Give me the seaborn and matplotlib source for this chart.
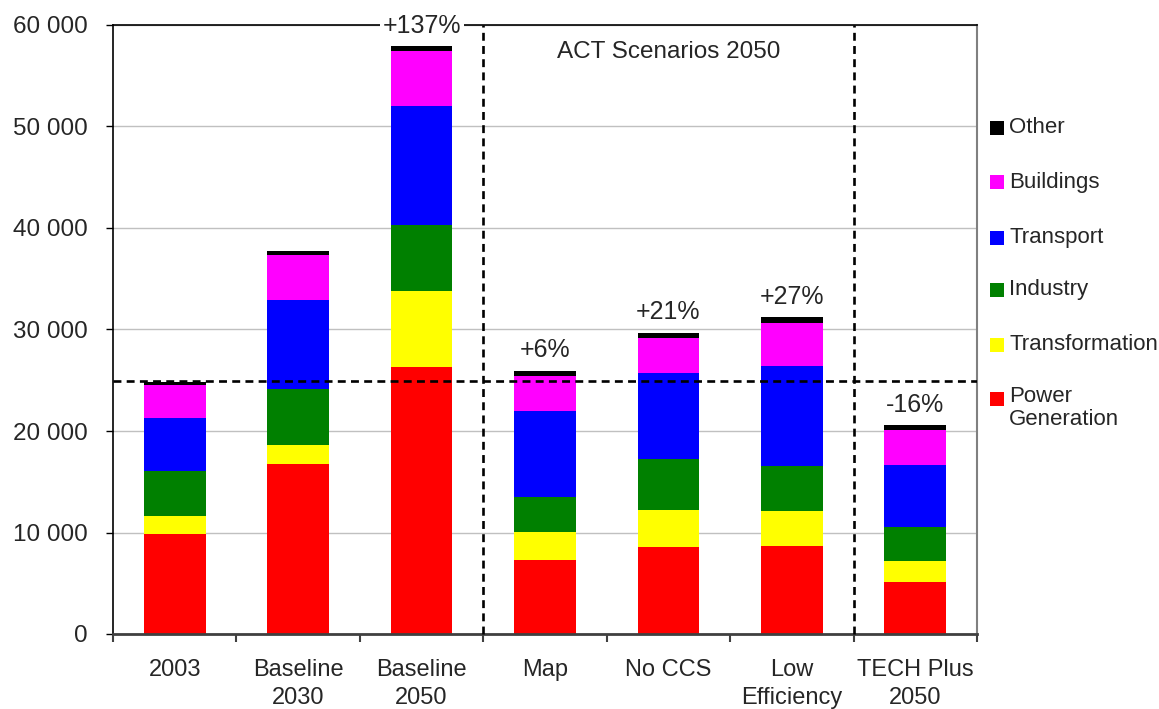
import numpy as np
import pandas as pd
import matplotlib
matplotlib.use("Agg")
import matplotlib.pyplot as plt
from matplotlib.patches import Rectangle
import seaborn as sns

# scenarios (x axis)
categories = ["2003", "Baseline\n2030", "Baseline\n2050", "Map", "No CCS",
              "Low\nEfficiency", "TECH Plus\n2050"]

# sector emissions (bottom to top of each bar)
power = [9850, 16750, 26340, 7290, 8570, 8670, 5120]
transformation = [1780, 1870, 7450, 2760, 3650, 3450, 2070]
industry = [4430, 5520, 6510, 3450, 5020, 4460, 3350]
transport = [5220, 8760, 11720, 8470, 8470, 9820, 6080]
buildings = [3250, 4440, 5420, 3450, 3450, 4240, 3480]
other = [330, 420, 490, 520, 530, 590, 490]

sectors = ["Power\nGeneration", "Transformation", "Industry", "Transport", "Buildings", "Other"]
sector_colors = ["#ff0000", "#ffff00", "#008000", "#0000ff", "#ff00ff", "#000000"]
change_labels = ["", "", "+137%", "+6%", "+21%", "+27%", "-16%"]
y_ticks = [0, 10000, 20000, 30000, 40000, 50000, 60000]

sns.set_style("white")
plt.rcParams['font.family'] = ['Liberation Sans', 'DejaVu Sans']

df = pd.DataFrame({
    "scenario": categories,
    sectors[0]: power,
    sectors[1]: transformation,
    sectors[2]: industry,
    sectors[3]: transport,
    sectors[4]: buildings,
    sectors[5]: other,
})
# cumulative tops, so stacked bars can be drawn tallest first
cum = df[sectors].cumsum(axis=1)
cum["scenario"] = df["scenario"]
totals = cum[sectors[-1]].values

fig = plt.figure(figsize=(11.59, 7.09), dpi=100)
ax = fig.add_axes([113 / 1159, 1 - 634 / 709, 864 / 1159, 609 / 709])

for sector, color in zip(reversed(sectors), reversed(sector_colors)):
    sns.barplot(data=cum, x="scenario", y=sector, order=categories, color=color,
                saturation=1, width=0.5, linewidth=0, ax=ax)

ax.set_xlim(-0.5, len(categories) - 0.5)
ax.set_ylim(0, 60000)
ax.set_xlabel("")
ax.set_ylabel("")

# y axis
ax.set_yticks(y_ticks)
ax.set_yticklabels([f"{v:,}".replace(",", " ") for v in y_ticks], fontsize=17.5)
ax.tick_params(axis='y', length=5, width=1, direction='out', pad=13, color='black', left=True)
ax.yaxis.grid(True, color='#c0c0c0', linewidth=1)
ax.set_axisbelow(True)

# x axis: labels at centres, ticks between categories
ax.set_xticks(range(len(categories)))
ax.set_xticklabels(categories, fontsize=17, linespacing=1.35)
ax.tick_params(axis='x', which='major', length=0, pad=18)
ax.set_xticks(np.arange(-0.5, len(categories), 1), minor=True)
ax.tick_params(axis='x', which='minor', length=6, width=1.5, direction='out',
               color='#404040', bottom=True)

for side in ['left', 'top']:
    ax.spines[side].set_color('black')
    ax.spines[side].set_linewidth(1.2)
ax.spines['right'].set_color('#808080')
ax.spines['right'].set_linewidth(1.5)
ax.spines['bottom'].set_color('#404040')
ax.spines['bottom'].set_linewidth(2)

# reference lines
dash = (0, (3, 2))
ax.axhline(totals[0] + 100, color='black', linestyle=dash, linewidth=1.9, zorder=4)
for xv in [2.5, 5.5]:
    ax.axvline(xv, color='black', linestyle=dash, linewidth=1.9, zorder=4, clip_on=False)

ax.text(4, 57300, "ACT Scenarios 2050", ha='center', va='center', fontsize=17.5)

# change vs 2003 above bars
for i, lab in enumerate(change_labels):
    if not lab:
        continue
    ax.annotate(lab, (i, totals[i]), xytext=(0, 6), textcoords='offset points',
                ha='center', va='bottom', fontsize=18, zorder=5, annotation_clip=False,
                bbox=dict(fc='white', ec='none', pad=2) if i == 2 else None)

# legend on the right, top entry = Other
W, H = 1159, 709
legend_rows = [127.7, 182.3, 237.5, 290.0, 344.5, 399.0]
for k, yc in enumerate(legend_rows):
    idx = len(sectors) - 1 - k
    fig.add_artist(Rectangle((990 / W, 1 - (yc + 7) / H), 14 / W, 14 / H,
                             transform=fig.transFigure, facecolor=sector_colors[idx],
                             edgecolor='none'))
    if "\n" in sectors[idx]:
        fig.text(1009 / W, 1 - (yc - 13) / H, sectors[idx], ha='left', va='top',
                 fontsize=16, linespacing=1.1)
    else:
        fig.text(1009 / W, 1 - yc / H, sectors[idx], ha='left', va='center', fontsize=16)

fig.savefig("out.png", dpi=100)
